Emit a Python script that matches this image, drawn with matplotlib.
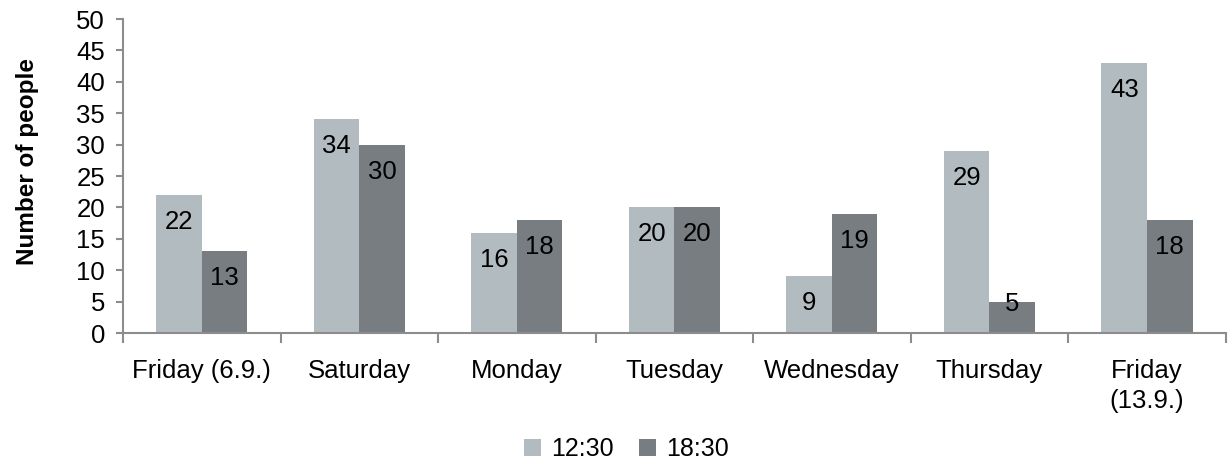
import matplotlib
matplotlib.use('Agg')
import numpy as np
import matplotlib.pyplot as plt

plt.rcParams['font.family'] = ['Liberation Sans', 'DejaVu Sans']

days = ['Friday (6.9.)', 'Saturday', 'Monday', 'Tuesday', 'Wednesday', 'Thursday', 'Friday\n(13.9.)']
noon = [22, 34, 16, 20, 9, 29, 43]
evening = [13, 30, 18, 20, 19, 5, 18]
series_names = ['12:30', '18:30']
colors = ['#b2bcc0', '#787d82']
axis_grey = '#8c8c8c'

fig = plt.figure(figsize=(12.28, 4.66), dpi=100)
ax = fig.add_axes([0.1002, 0.2854, 0.898, 0.6738])

x = np.arange(len(days))
w = 0.289
bars1 = ax.bar(x - w / 2, noon, w, color=colors[0], label=series_names[0])
bars2 = ax.bar(x + w / 2, evening, w, color=colors[1], label=series_names[1])

# labels sit just inside the top of each bar
for bars, vals in [(bars1, noon), (bars2, evening)]:
    for b, v in zip(bars, vals):
        y = max(v - 4.3, 4.6)
        ax.text(b.get_x() + b.get_width() / 2, y, str(v), ha='center', va='center',
                fontsize=18.5, color='black')

ax.set_xlim(-0.5, len(days) - 0.5)
ax.set_ylim(0, 50)
ax.set_yticks(np.arange(0, 51, 5))
ax.set_xticks(np.arange(-0.5, len(days), 1.0))
ax.set_xticklabels([])
ax.set_xticks(x, minor=True)
ax.set_xticklabels(days, minor=True, fontsize=18.5, linespacing=1.3)
ax.tick_params(axis='x', which='major', length=7, width=1.5, color=axis_grey, direction='out')
ax.tick_params(axis='x', which='minor', length=0, pad=19)
ax.tick_params(axis='y', length=5, width=1.5, color=axis_grey, labelsize=18.5, pad=8)

for s in ['top', 'right']:
    ax.spines[s].set_visible(False)
for s in ['left', 'bottom']:
    ax.spines[s].set_color(axis_grey)
    ax.spines[s].set_linewidth(1.5)

ax.set_ylabel('Number of people', fontsize=17.5, fontweight='bold', labelpad=27)
ax.yaxis.label.set_y(0.545)

fig.legend(loc='lower center', bbox_to_anchor=(0.51, -0.038), ncol=2, frameon=False,
           fontsize=18, handlelength=0.7, handleheight=0.7, handletextpad=0.4, columnspacing=1.0)

fig.savefig('out.png', dpi=100)
